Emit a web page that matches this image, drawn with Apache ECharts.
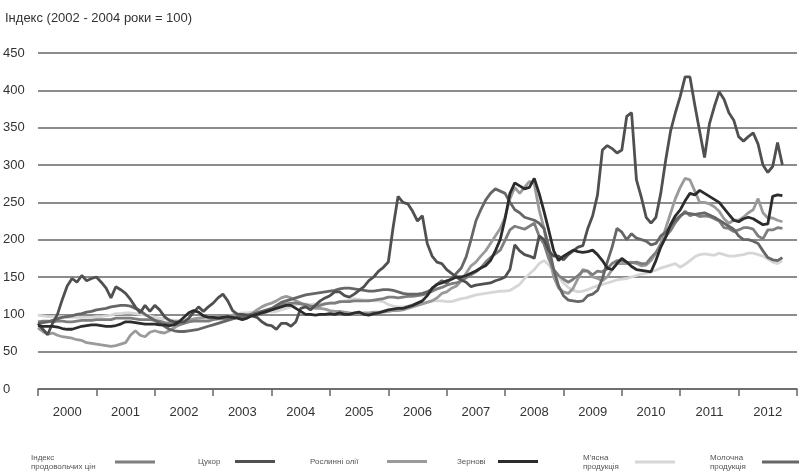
<!DOCTYPE html>
<html>
<head>
<meta charset="utf-8">
<script src="https://cdn.jsdelivr.net/npm/echarts@6/dist/echarts.min.js"></script>
<style>html,body{margin:0;padding:0;background:#fff}#c{width:799px;height:474px}</style>
</head>
<body>
<div id="c"></div>
<script>
const years = ['2000','2001','2002','2003','2004','2005','2006','2007','2008','2009','2010','2011','2012'];
const yTicks = [0, 50, 100, 150, 200, 250, 300, 350, 400, 450];
const titleText = 'Індекс (2002 - 2004 роки = 100)';
const seriesNames = ['Індекс продовольчих цін', 'Цукор', 'Рослинні олії', 'Зернові', "М'ясна продукція", 'Молочна продукція'];
const legendLines = [['Індекс', 'продовольчих цін'], ['Цукор'], ['Рослинні олії'], ['Зернові'], ["М'ясна", 'продукція'], ['Молочна', 'продукція']];

const foodIndex = [
  90, 91, 91, 90, 91, 91, 90, 90, 91, 92, 92, 92,
  93, 93, 93, 93, 95, 95, 95, 95, 94, 93, 93, 93,
  92, 91, 89, 88, 87, 86, 88, 90, 91, 91, 91, 91,
  93, 94, 94, 94, 95, 96, 97, 98, 99, 101, 102, 103,
  107, 110, 113, 114, 115, 115, 114, 113, 111, 111, 112, 114,
  115, 115, 117, 117, 117, 118, 118, 118, 118, 119, 120, 121,
  123, 123, 122, 123, 124, 124, 125, 126, 128, 131, 134, 136,
  139, 141, 142, 145, 149, 153, 157, 162, 170, 176, 181, 186,
  199, 213, 218, 216, 214, 218, 222, 205, 194, 174, 160, 152,
  147, 143, 147, 152, 158, 158, 153, 158, 157, 161, 168, 172,
  172, 170, 169, 170, 168, 168, 176, 183, 192, 204, 212, 223,
  231, 238, 232, 234, 231, 232, 231, 228, 225, 216, 215, 211,
  213, 216, 216, 214, 205, 201, 213, 213, 216, 215
];
const sugar = [
  88, 80, 73, 88, 100, 120, 138, 148, 143, 152, 145, 148,
  150, 143, 135, 122, 137, 133, 128, 120, 110, 102, 112, 104,
  112, 106, 97, 92, 90, 90, 90, 95, 103, 110, 104, 110,
  115, 122, 127, 118, 105, 100, 100, 99, 98, 96, 90, 86,
  85, 80, 88, 88, 84, 90, 108, 110, 106, 112, 118, 122,
  125, 130, 130, 125, 123, 127, 132, 137, 145, 150, 158, 163,
  170, 217, 258, 250, 248, 238, 225, 232, 195, 178, 170, 168,
  160, 155, 150, 146, 143, 137, 139, 140, 141, 142, 145, 147,
  150, 160, 193, 185, 180, 178, 175, 205, 200, 185, 178, 178,
  173, 180, 185, 190, 192, 215, 232, 260, 320, 326, 322, 316,
  320, 365, 370, 280, 257, 230, 222, 230, 262, 306, 345, 370,
  392, 418, 418, 380, 345, 310, 355, 378, 398, 388, 370, 360,
  338, 332, 338, 343, 328, 300, 290, 298, 330, 300
];
const oils = [
  82, 77, 73, 75, 72, 70, 69, 68, 66, 65, 62, 61,
  60, 59, 58, 57, 58, 60, 62, 72, 78, 72, 70, 76,
  78, 76, 75, 78, 82, 86, 90, 92, 94, 95, 96, 98,
  98, 97, 96, 97, 99, 100, 98, 99, 101, 106, 110, 113,
  115, 118, 122, 124, 122, 118, 115, 112, 110, 108, 108, 107,
  105, 104, 104, 103, 102, 101, 101, 102, 102, 103, 103, 103,
  104, 105, 105, 106, 108, 110, 112, 114, 116, 118, 122, 128,
  130, 135, 138, 145, 155, 165, 170, 178, 185, 195, 205, 215,
  230, 255, 270, 262, 270, 278, 275, 240, 215, 180, 150, 135,
  130, 128, 135, 148, 160, 158, 150, 148, 145, 150, 160, 168,
  168, 168, 170, 168, 165, 166, 172, 182, 195, 215, 235, 255,
  270, 282, 280, 265, 250, 250, 248, 244, 238, 228, 222, 226,
  226, 230, 236, 240, 255, 236, 229, 229, 226, 224
];
const cereals = [
  85, 84, 84, 84, 83, 81, 80, 80, 82, 84, 85, 86,
  86, 85, 84, 84, 85, 87, 90, 90, 89, 88, 87, 87,
  87, 86, 86, 85, 86, 90, 96, 102, 105, 103, 98, 96,
  96, 95, 96, 97, 96, 95, 93, 95, 98, 100, 102, 104,
  106, 108, 110, 112, 112, 108, 104, 100, 100, 99, 100, 100,
  101, 100, 102, 100, 100, 102, 103, 100, 99, 101, 102, 104,
  106, 107, 108, 108, 110, 112, 115, 118, 125, 135, 140, 142,
  145, 147, 150, 150, 152, 155, 158, 162, 165, 172, 185, 200,
  228, 262, 276, 272, 268, 270, 282, 262, 238, 212, 185, 172,
  178, 182, 186, 184, 183, 184, 186, 180, 172, 162, 160, 168,
  175, 170, 164, 160, 159, 158, 157, 172, 190, 203, 220, 232,
  240, 252, 262, 260, 266, 262, 258, 254, 250, 242, 234, 226,
  224, 228, 230, 228, 224, 220, 221, 258, 260, 259
];
const meat = [
  99, 98, 97, 97, 97, 97, 96, 96, 96, 96, 96, 96,
  97, 97, 98, 99, 101, 101, 102, 102, 101, 100, 99, 98,
  96, 95, 94, 93, 92, 92, 92, 93, 93, 94, 94, 94,
  94, 95, 96, 97, 99, 101, 102, 102, 103, 103, 104, 104,
  103, 104, 106, 108, 110, 113, 114, 114, 113, 114, 114, 114,
  115, 115, 116, 118, 119, 121, 120, 119, 119, 118, 118, 117,
  113, 111, 110, 110, 111, 113, 115, 116, 117, 118, 118, 118,
  117, 117, 119, 121, 122, 124, 126, 127, 128, 129, 130, 131,
  131, 132, 136, 140, 148, 154, 160, 168, 172, 166, 158, 150,
  142, 136, 132, 130, 131, 133, 136, 138, 140, 142, 144, 146,
  147, 148, 150, 152, 154, 155, 157, 159, 162, 164, 166, 168,
  163, 167, 172, 177, 180, 181, 180, 179, 182, 180, 178, 178,
  179, 180, 182, 182, 180, 178, 174, 170, 168, 172
];
const dairy = [
  88, 89, 90, 92, 94, 96, 97, 98, 100, 101, 103, 104,
  106, 107, 108, 110, 111, 112, 112, 111, 108, 105, 100, 96,
  92, 88, 84, 80, 78, 77, 77, 78, 79, 80, 82, 84,
  86, 88, 90, 92, 94, 96, 97, 98, 100, 102, 104, 106,
  108, 112, 116, 118, 120, 122, 124, 126, 127, 128, 129, 130,
  131, 132, 134, 135, 135, 134, 133, 132, 131, 131, 132, 133,
  133, 132, 130, 128, 127, 127, 127, 128, 130, 134, 140, 145,
  142, 148, 155, 162, 177, 200, 225, 240, 253, 262, 268, 265,
  262, 250, 240, 236, 230, 228, 226, 222, 215, 190, 160, 138,
  125, 119, 118, 117, 118, 125, 127, 132, 148, 170, 190, 215,
  210, 200, 208, 202, 200, 198, 193, 195, 205, 210, 218, 226,
  232, 236, 235, 234, 235, 236, 233, 230, 226, 222, 218, 214,
  205, 200, 200, 198, 195, 185, 176, 173, 172, 176
];

const allData = [foodIndex, sugar, oils, cereals, meat, dairy];
const colors = ['#7e7e7e', '#505050', '#9a9a9a', '#2c2c2c', '#d6d6d6', '#666666'];
const zs = [3, 5, 2, 6, 1, 4];
const FONT = '"Liberation Sans", Arial, sans-serif';

const series = allData.map((arr, k) => ({
  name: seriesNames[k],
  type: 'line',
  xAxisIndex: 1,
  showSymbol: false,
  symbol: 'none',
  z: zs[k],
  color: colors[k],
  lineStyle: { width: 2.8, color: colors[k] },
  data: arr.map((v, i) => [2000 + i / 12, v])
}));

const legendLeft = [26, 193, 305, 452, 578, 705];
const legendTextW = [79, 32, 72, 36, 47, 47];
const legends = seriesNames.map((n, k) => ({
  data: [n],
  left: legendLeft[k],
  top: legendLines[k].length > 1 ? 448 : 452,
  orient: 'horizontal',
  align: 'right',
  icon: 'rect',
  itemWidth: 40,
  itemHeight: 3,
  selectedMode: false,
  formatter: () => legendLines[k].map(s => '{t|' + s + '}').join('\n'),
  textStyle: {
    fontSize: 8, color: '#555', fontFamily: FONT, lineHeight: 9,
    rich: { t: { width: legendTextW[k], align: 'left', fontSize: 8, lineHeight: 9, color: '#555', fontFamily: FONT } }
  }
}));

const chart = echarts.init(document.getElementById('c'), null, { renderer: 'canvas' });
chart.setOption({
  animation: false,
  backgroundColor: '#ffffff',
  title: {
    text: titleText, left: 0, top: 7,
    textStyle: { fontSize: 13, fontWeight: 'normal', color: '#333', fontFamily: FONT }
  },
  legend: legends,
  grid: { left: 38, right: 2, top: 53, bottom: 85 },
  xAxis: [
    {
      type: 'category', data: years, boundaryGap: true, position: 'bottom',
      axisLine: { show: true, lineStyle: { color: '#666', width: 1.5 } },
      axisTick: { show: true, length: 7, lineStyle: { color: '#666', width: 1.5 } },
      axisLabel: { fontSize: 13, color: '#333', margin: 17, fontFamily: FONT },
      splitLine: { show: false }
    },
    { type: 'value', min: 2000, max: 2013, show: false }
  ],
  yAxis: {
    type: 'value', min: 0, max: 450, interval: 50,
    axisLine: { show: false }, axisTick: { show: false },
    axisLabel: { fontSize: 13, color: '#333', align: 'left', margin: 35, fontFamily: FONT,
      formatter: v => (yTicks.indexOf(v) >= 0 ? String(v) : '') },
    splitLine: { show: true, lineStyle: { color: '#666', width: 1.5 } }
  },
  series: series
});
</script>
</body>
</html>
